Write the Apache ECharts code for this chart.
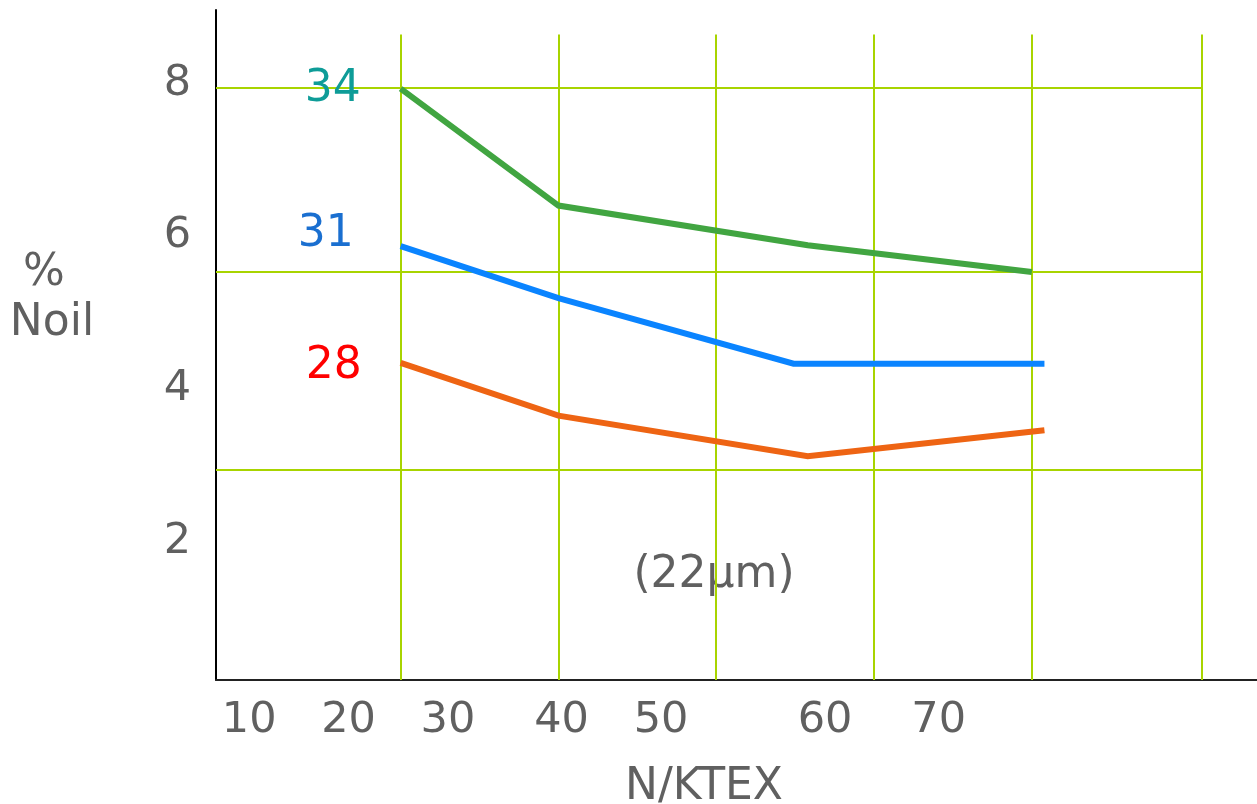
<!DOCTYPE html>
<html>
<head>
<meta charset="utf-8">
<script src="https://cdn.jsdelivr.net/npm/echarts@6/dist/echarts.min.js"></script>
<style>
html,body{margin:0;padding:0;background:#fff;}
#chart{width:1257px;height:804px;}
</style>
</head>
<body>
<div id="chart"></div>
<script>
// ---- data ----
const xTickText = ['10', '20', '30', '40', '50', '60', '70'];
const xTickValues = [20.4, 26.7, 33.0, 40.2, 46.5, 56.9, 64.1];
const yTickValues = [2, 4, 6, 8];
const gridXValues = [30, 40, 50, 60, 70, 80.8];
const gridYValues = [7.89, 5.48, 2.89];
const seriesNames = ['34', '31', '28'];
const len34 = [[30, 7.88], [40, 6.35], [55.8, 5.83], [70.0, 5.48]];
const len31 = [[30, 5.82], [40, 5.14], [54.9, 4.28], [70.8, 4.28]];
const len28 = [[30, 4.29], [40, 3.60], [55.8, 3.07], [70.8, 3.41]];
const xRange = [18.3, 84.27];
const yRange = [0.14, 8.91];
const gridTopValue = 8.59;
const gridRightValue = 80.8;

const FONT = 'DejaVu Sans';
const GRAY = '#606060';
const GRID = '#a8d400';

const chart = echarts.init(document.getElementById('chart'), null, {renderer: 'canvas'});

function lineSeries(name, pts, color, labelColor, labelDist, labelOffY) {
  return {
    name: name,
    type: 'line',
    silent: true,
    symbol: 'circle',
    symbolSize: 0,
    showSymbol: true,
    lineStyle: {color: color, width: 6, join: 'miter'},
    itemStyle: {color: color},
    data: pts.map((p, i) => i === 0 ? {
      value: p,
      label: {
        show: true,
        position: 'left',
        distance: labelDist,
        offset: [0, labelOffY],
        formatter: name,
        color: labelColor,
        fontFamily: FONT,
        fontSize: 44
      }
    } : {value: p}),
    z: 5
  };
}

const markData = [];
gridXValues.forEach(x => markData.push([{coord: [x, yRange[0]]}, {coord: [x, gridTopValue]}]));
gridYValues.forEach(y => markData.push([{coord: [xRange[0], y]}, {coord: [gridRightValue, y]}]));

const option = {
  animation: false,
  backgroundColor: '#fff',
  grid: {left: 216, right: 0, top: 10, bottom: 124, containLabel: false, outerBoundsMode: 'none'},
  xAxis: {
    type: 'value',
    min: xRange[0],
    max: xRange[1],
    axisLine: {show: true, lineStyle: {color: '#222', width: 2}},
    axisTick: {show: false},
    splitLine: {show: false},
    axisLabel: {
      customValues: xTickValues,
      margin: 19,
      color: GRAY,
      fontFamily: FONT,
      fontSize: 43,
      formatter: function (v) {
        const i = xTickValues.findIndex(t => Math.abs(t - v) < 1e-6);
        return i >= 0 ? xTickText[i] : '';
      }
    }
  },
  yAxis: {
    type: 'value',
    min: yRange[0],
    max: yRange[1],
    axisLine: {show: true, lineStyle: {color: '#000', width: 2}},
    axisTick: {show: false},
    splitLine: {show: false},
    axisLabel: {
      customValues: yTickValues,
      margin: 25,
      verticalAlign: 'top',
      lineHeight: 8,
      color: GRAY,
      fontFamily: FONT,
      fontSize: 43
    }
  },
  series: [
    {
      type: 'line',
      silent: true,
      data: [],
      markLine: {
        silent: true,
        symbol: 'none',
        animation: false,
        label: {show: false},
        lineStyle: {color: GRID, width: 2, type: 'solid'},
        emphasis: {disabled: true},
        data: markData
      },
      z: 1
    },
    lineSeries(seriesNames[0], len34, '#41a541', '#0e9c98', 40, 1),
    lineSeries(seriesNames[1], len31, '#0a84ff', '#1a6fd0', 47, -12),
    lineSeries(seriesNames[2], len28, '#ee6413', '#ff0000', 39, 4)
  ],
  graphic: [
    {type: 'text', x: 714, y: 576, style: {text: '(22µm)', fill: GRAY, font: '44px "DejaVu Sans"', textAlign: 'center', textVerticalAlign: 'middle'}},
    {type: 'text', x: 44, y: 274, style: {text: '%', fill: GRAY, font: '44px "DejaVu Sans"', textAlign: 'center', textVerticalAlign: 'middle'}},
    {type: 'text', x: 52, y: 324, style: {text: 'Noil', fill: GRAY, font: '44px "DejaVu Sans"', textAlign: 'center', textVerticalAlign: 'middle'}},
    {type: 'text', x: 704, y: 788, style: {text: 'N/KTEX', fill: GRAY, font: '44px "DejaVu Sans"', textAlign: 'center', textVerticalAlign: 'middle'}}
  ]
};
chart.setOption(option);
</script>
</body>
</html>
